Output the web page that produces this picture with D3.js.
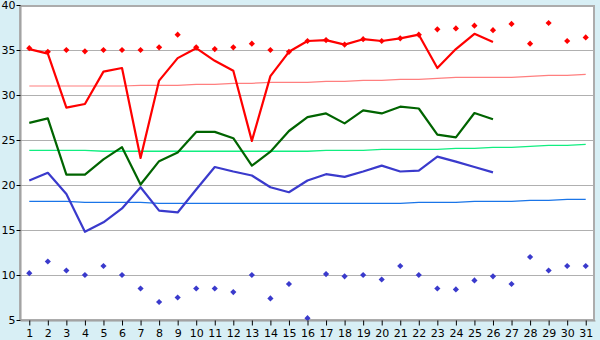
<!DOCTYPE html>
<html>
<head>
<meta charset="utf-8">
<script src="https://cdn.jsdelivr.net/npm/d3@7"></script>
<style>
  body { margin: 0; background: #d8eff5; }
  svg { display: block; }
  .tick text { font-family: "DejaVu Sans", Verdana, sans-serif; font-size: 11px; fill: #000; }
</style>
</head>
<body>
<div id="chart"></div>
<script>
// days of the month
let days = [1,2,3,4,5,6,7,8,9,10,11,12,13,14,15,16,17,18,19,20,21,22,23,24,25,26,27,28,29,30,31];
let yTicks = [5,10,15,20,25,30,35,40];

// daily max / mean / min (first 26 days)
let maxT  = [35.1,34.6,28.6,29.0,32.6,33.0,23.0,31.6,34.1,35.2,33.8,32.7,24.9,32.1,34.8,36.0,36.1,35.6,36.2,36.0,36.3,36.7,33.0,35.1,36.8,35.9];
let meanT = [26.9,27.4,21.15,21.15,22.85,24.2,20.05,22.65,23.6,25.9,25.9,25.2,22.15,23.7,26.0,27.55,27.95,26.85,28.3,27.95,28.7,28.5,25.6,25.3,28.0,27.3];
let minT  = [20.5,21.35,19.0,14.8,15.85,17.4,19.75,17.15,16.95,19.5,22.0,21.5,21.05,19.75,19.2,20.5,21.2,20.9,21.5,22.15,21.5,21.6,23.15,22.6,22.0,21.4];

// normals
let normMax  = [31.0,31.0,31.0,31.0,31.0,31.0,31.07,31.07,31.07,31.19,31.19,31.3,31.3,31.41,31.41,31.41,31.52,31.52,31.63,31.63,31.74,31.74,31.85,31.96,31.96,31.96,31.96,32.07,32.19,32.19,32.3];
let normMean = [23.85,23.85,23.85,23.85,23.75,23.75,23.75,23.75,23.75,23.75,23.75,23.75,23.75,23.75,23.75,23.75,23.85,23.85,23.85,23.96,23.96,23.96,23.96,24.07,24.07,24.19,24.19,24.3,24.41,24.41,24.52];
let normMin  = [18.19,18.19,18.19,18.07,18.07,18.07,18.07,17.96,17.96,17.96,17.96,17.96,17.96,17.96,17.96,17.96,17.96,17.96,17.96,17.96,17.96,18.07,18.07,18.07,18.19,18.19,18.19,18.3,18.3,18.41,18.41];

// records
let recMax = [35.2,34.8,35.0,34.85,35.0,35.0,35.0,35.3,36.7,35.3,35.1,35.3,35.7,35.0,34.8,36.0,36.1,35.6,36.2,36.0,36.3,36.7,37.3,37.4,37.7,37.2,37.9,35.7,38.0,36.0,36.4];
let recMin = [10.2,11.5,10.5,10.0,11.0,10.0,8.5,7.0,7.5,8.5,8.5,8.1,10.0,7.4,9.0,5.2,10.1,9.85,10.0,9.5,11.0,10.0,8.5,8.4,9.4,9.85,9.0,12.0,10.5,11.0,11.0];

let width = 600, height = 340;
let margin = ({top: 5, right: 5, bottom: 20, left: 20});

const svg = d3.select("#chart").append("svg")
    .attr("width", width)
    .attr("height", height);

let x = d3.scalePoint()
    .domain(days)
    .range([margin.left, width - margin.right])
    .padding(0.5);

let y = d3.scaleLinear()
    .domain([5, 40])
    .range([height - margin.bottom, margin.top]);

// plot background
svg.append("rect")
    .attr("x", margin.left).attr("y", margin.top)
    .attr("width", width - margin.left - margin.right)
    .attr("height", height - margin.top - margin.bottom)
    .attr("fill", "#fff");

// grid
svg.append("g")
    .selectAll("line")
    .data(yTicks.slice(1, -1))
    .join("line")
    .attr("x1", margin.left).attr("x2", width - margin.right)
    .attr("y1", d => Math.round(y(d)) + 0.5)
    .attr("y2", d => Math.round(y(d)) + 0.5)
    .attr("stroke", "#b0b0b0");

// border
svg.append("rect")
    .attr("x", margin.left).attr("y", margin.top + 1)
    .attr("width", width - margin.left - margin.right - 1)
    .attr("height", height - margin.top - margin.bottom - 1)
    .attr("fill", "none")
    .attr("stroke", "#acacac")
    .attr("stroke-width", 2);

let line = d3.line()
    .x((d, i) => x(days[i]))
    .y(d => y(d));

let drawLine = (data, color, w) => svg.append("path")
    .datum(data)
    .attr("fill", "none")
    .attr("stroke", color)
    .attr("stroke-width", w)
    .attr("stroke-linejoin", "round")
    .attr("d", line);

drawLine(normMax, "#ff7f7f", 1.2);
drawLine(normMean, "#11ee80", 1.3);
drawLine(normMin, "#1a75e8", 1.3);
drawLine(minT, "#3a3acc", 2.2);
drawLine(meanT, "#006400", 2.2);
drawLine(maxT, "#ff0000", 2.2);

// record markers: small square diamonds
let diamond = d3.symbol().type(d3.symbolSquare).size(19);
let drawMarks = (data, color) => svg.append("g")
    .selectAll("path")
    .data(data)
    .join("path")
    .attr("transform", (d, i) => `translate(${x(days[i])},${y(d)}) rotate(45)`)
    .attr("d", diamond)
    .attr("fill", color);

drawMarks(recMax, "#ff0000");
drawMarks(recMin, "#3a3acc");

// axes
let yAxis = svg.append("g")
    .attr("transform", `translate(${margin.left + 0.5},0)`)
    .call(d3.axisLeft(y).tickValues(yTicks).tickSize(4).tickPadding(1).tickSizeOuter(0));
yAxis.select(".domain").attr("stroke", "#9a9a9a");

let xAxis = svg.append("g")
    .attr("transform", `translate(0,${height - margin.bottom + 0.5})`)
    .call(d3.axisBottom(x).tickSize(5).tickPadding(4).tickSizeOuter(0));
xAxis.select(".domain").attr("stroke", "#9a9a9a");
</script>
</body>
</html>
